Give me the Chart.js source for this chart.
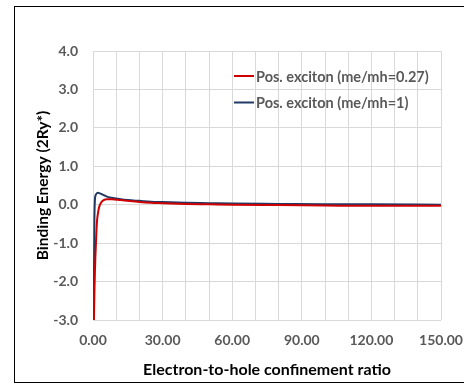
<!DOCTYPE html>
<html>
<head>
<meta charset="utf-8">
<script src="https://cdn.jsdelivr.net/npm/chart.js@4/dist/chart.umd.min.js"></script>
<style>
  html, body { margin: 0; padding: 0; background: #fff; }
  #wrap { position: relative; width: 464px; height: 387px; overflow: hidden; }
  #frame { position: absolute; left: 14px; top: 6px; width: 460px; height: 377px; border: 1px solid #000; box-sizing: border-box; }
  #chart { position: absolute; left: 0; top: 0; }
</style>
</head>
<body>
<div id="wrap">
  <div id="frame"></div>
  <canvas id="chart" width="464" height="387"></canvas>
</div>
<script>
// electron-to-hole confinement ratio (x)
const ratios = [0.3, 0.4, 0.6, 0.85, 1.0, 1.3, 1.7, 2.2, 2.7, 3.5, 4.6, 6, 8, 10, 12, 15, 20, 25, 30, 40, 50, 60, 80, 100, 120, 150];
// binding energy, me/mh = 0.27
const energyRed = [null, -3.0, -2.3, -1.7, -1.4, -0.95, -0.45, -0.2, -0.05, 0.06, 0.12, 0.14, 0.14, 0.13, 0.12, 0.1, 0.07, 0.05, 0.04, 0.02, 0.01, 0.0, -0.01, -0.02, -0.03, -0.03];
// binding energy, me/mh = 1
const energyBlue = [-3.0, -2.0, -0.4, 0.15, 0.22, 0.27, 0.3, 0.31, 0.3, 0.28, 0.25, 0.21, 0.18, 0.16, 0.14, 0.12, 0.1, 0.08, 0.07, 0.05, 0.04, 0.03, 0.02, 0.01, 0.01, 0.0];
const seriesLabels = ['Pos. exciton (me/mh=0.27)', 'Pos. exciton (me/mh=1)'];

const tickGray = '#595959';
const gridGray = '#d9d9d9';
const fontFam = 'Lato, "Open Sans", sans-serif';

function toPoints(ys) {
    return ratios.map((x, i) => ({ x: x, y: ys[i] }));
}

// legend drawn inside the plot, top right
const insideLegend = {
    id: 'insideLegend',
    afterDraw(chart) {
        const c = chart.ctx;
        c.save();
        c.font = 'bold 14.5px ' + fontFam;
        c.textBaseline = 'middle';
        chart.data.datasets.forEach((ds, i) => {
            const y = 76 + i * 26.5;
            c.strokeStyle = ds.borderColor;
            c.lineWidth = 2;
            c.beginPath();
            c.moveTo(234, y);
            c.lineTo(254, y);
            c.stroke();
            c.fillStyle = tickGray;
            c.fillText(ds.label, 256, y + 1);
        });
        c.restore();
    }
};

new Chart(document.getElementById('chart'), {
    type: 'line',
    data: {
        datasets: [{
            label: seriesLabels[0],
            data: toPoints(energyRed),
            borderColor: '#d00000',
            borderWidth: 2,
            pointRadius: 0,
            cubicInterpolationMode: 'monotone',
            fill: false
        }, {
            label: seriesLabels[1],
            data: toPoints(energyBlue),
            borderColor: '#1f3864',
            borderWidth: 2,
            pointRadius: 0,
            cubicInterpolationMode: 'monotone',
            fill: false
        }]
    },
    options: {
        responsive: false,
        animation: false,
        layout: { padding: { left: 34, right: 0, top: 51, bottom: 8 } },
        scales: {
            x: {
                type: 'linear',
                min: 0,
                max: 150,
                border: { display: false },
                grid: { color: gridGray, drawTicks: false },
                afterFit: s => { s.height = 59; s.paddingRight = 23; s.paddingLeft = 0; },
                ticks: {
                    stepSize: 10,
                    autoSkip: false,
                    maxRotation: 0,
                    padding: 12,
                    color: tickGray,
                    font: { family: fontFam, size: 14, weight: 'bold' },
                    callback: v => (v % 30 === 0 ? v.toFixed(2) : '')
                },
                title: {
                    display: true,
                    text: 'Electron-to-hole confinement ratio',
                    color: '#000',
                    padding: { top: 10, bottom: 0 },
                    font: { family: fontFam, size: 16, weight: 'bold' }
                }
            },
            y: {
                min: -3,
                max: 4,
                border: { display: false },
                grid: { color: gridGray, drawTicks: false },
                afterFit: s => { s.width = 59; s.paddingTop = 0; s.paddingBottom = 0; },
                ticks: {
                    stepSize: 1,
                    padding: 15,
                    color: tickGray,
                    font: { family: fontFam, size: 14, weight: 'bold' },
                    callback: v => v.toFixed(1)
                },
                title: {
                    display: true,
                    text: 'Binding Energy (2Ry*)',
                    color: '#000',
                    padding: { top: 0, bottom: 0 },
                    font: { family: fontFam, size: 15.5, weight: 'bold' }
                }
            }
        },
        plugins: {
            legend: { display: false },
            tooltip: { enabled: false }
        }
    },
    plugins: [insideLegend]
});
</script>
</body>
</html>
